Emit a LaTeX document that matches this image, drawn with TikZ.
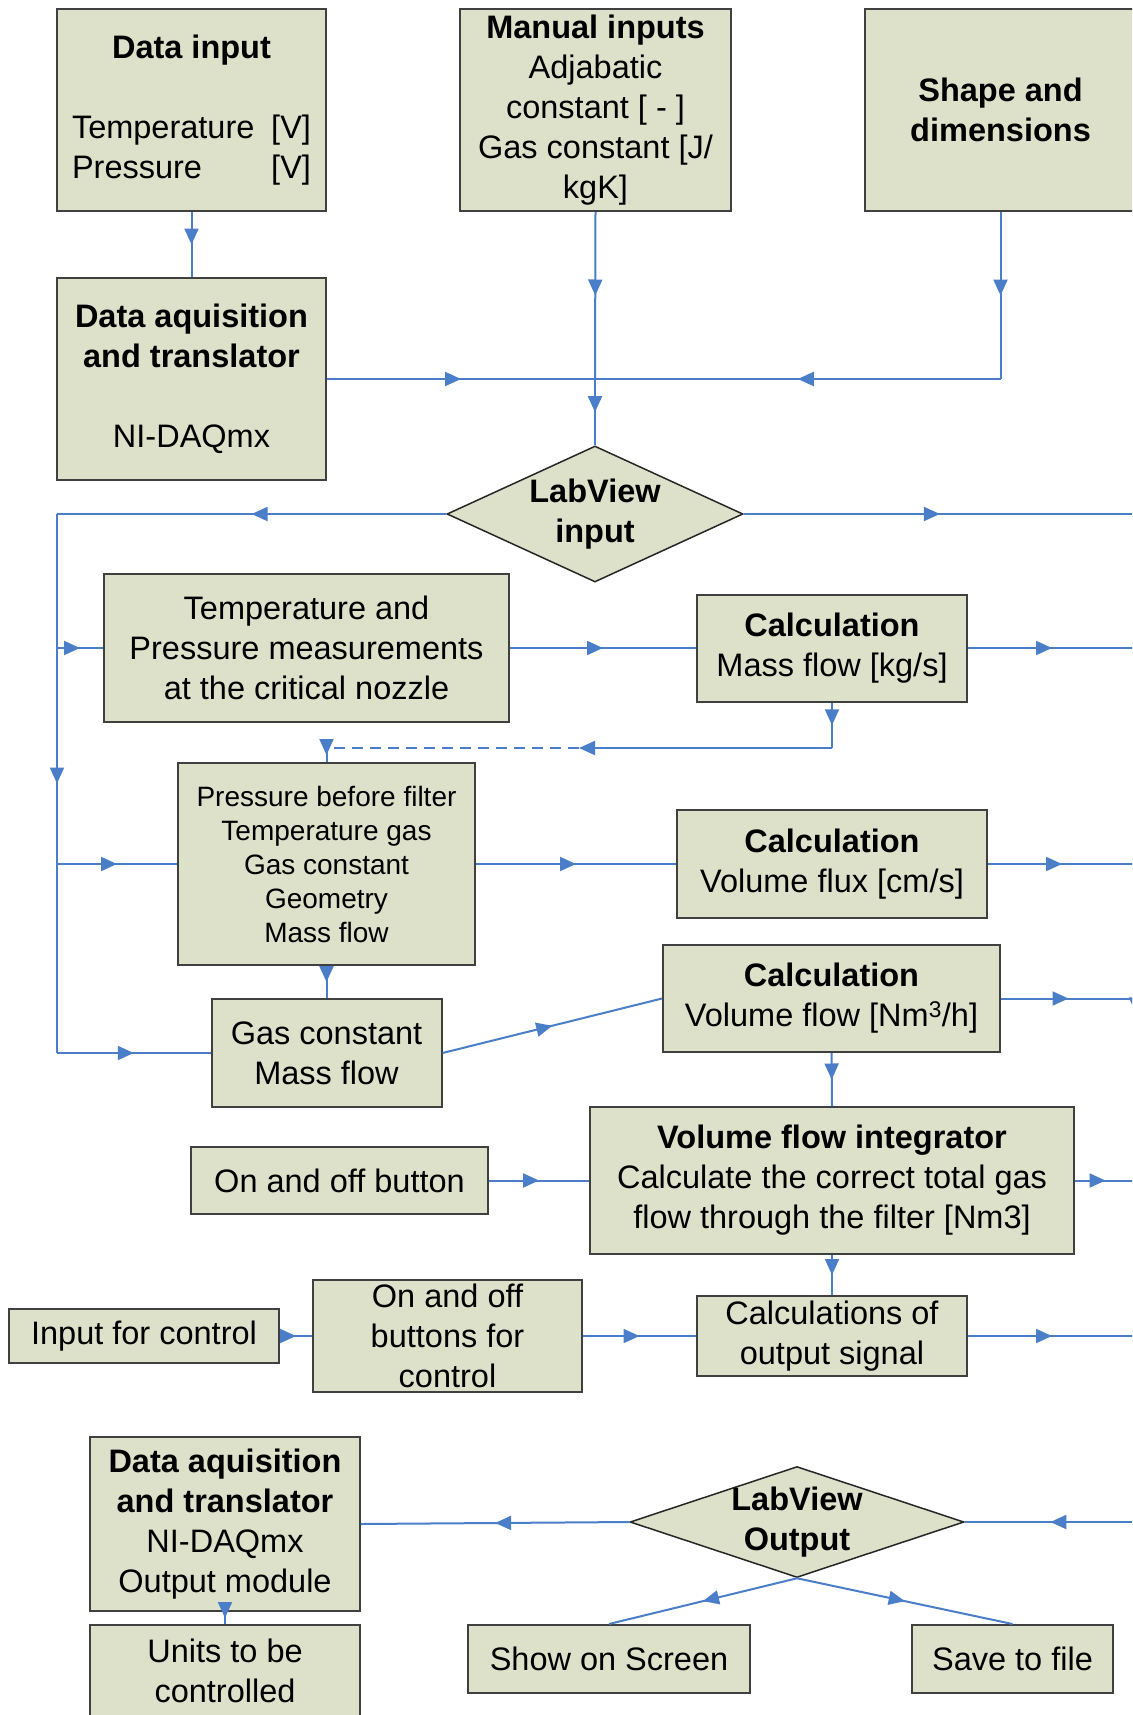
\documentclass[tikz,border=0pt]{standalone}
\usepackage{fontspec}
\setmainfont{Liberation Sans}
\usetikzlibrary{shapes.geometric,arrows.meta,decorations.markings}

\definecolor{boxfill}{RGB}{221,225,202}
\definecolor{flowblue}{RGB}{74,126,201}

\begin{document}
\begin{tikzpicture}[x=1pt,y=-1pt,
    box/.style={draw=black!75,line width=2pt,fill=boxfill,inner sep=0pt,align=center,
      font=\fontsize{32.5}{40}\selectfont},
    small/.style={font=\fontsize{28}{34}\selectfont},
    decision/.style={diamond,draw=black!85,line width=1.5pt,fill=boxfill,inner sep=0pt},
    dtext/.style={align=center,font=\fontsize{32.5}{40}\selectfont\bfseries},
    flow/.style={color=flowblue,line width=2pt},
    tip/.style={-{Triangle[length=16pt,width=14pt]}},
    midarrow/.style={postaction={decorate,decoration={markings,
      mark=at position 0.5 with {\arrow{Triangle[length=16pt,width=14pt]}}}}}]
      \useasboundingbox (0,0) rectangle (1132,1715);
      \fill [white] (0,0) rectangle (1132,1715);
      \clip (0,0) rectangle (1132,1715);

      \node [box,minimum width=269pt,minimum height=202pt] (datain) at (191.5,110)
        {\textbf{Data input}\\[40pt]\makebox[239pt]{Temperature\hfill[V]}\\\makebox[239pt]{Pressure\hfill[V]}};
      \node [box,minimum width=271pt,minimum height=202pt] (manual) at (595.5,110)
        {\textbf{Manual inputs}\\Adjabatic\\constant [ - ]\\Gas constant [J/\\kgK]};
      \node [box,minimum width=271pt,minimum height=202pt] (shape) at (1000.5,110)
        {\textbf{Shape and}\\\textbf{dimensions}};
      \node [box,minimum width=269pt,minimum height=202pt] (daq) at (191.5,379)
        {\textbf{Data aquisition}\\\textbf{and translator}\\[40pt]NI-DAQmx};
      \node [decision,minimum width=296pt,minimum height=136pt,
        label={[dtext]center:LabView\\input}] (lvin) at (595,514) {};

      \node [box,minimum width=405pt,minimum height=148pt] (tp) at (306.5,648)
        {Temperature and\\Pressure measurements\\at the critical nozzle};
      \node [box,minimum width=270pt,minimum height=107pt] (calcmass) at (832,648)
        {\textbf{Calculation}\\Mass flow [kg/s]};
      \node [box,small,minimum width=297pt,minimum height=202pt] (pbf) at (326.5,864)
        {Pressure before filter\\Temperature gas\\Gas constant\\Geometry\\Mass flow};
      \node [box,minimum width=310pt,minimum height=108pt] (calcflux) at (832,864)
        {\textbf{Calculation}\\Volume flux [cm/s]};
      \node [box,minimum width=230pt,minimum height=108pt] (gasmass) at (326.5,1053)
        {Gas constant\\Mass flow};
      \node [box,minimum width=337pt,minimum height=107pt] (calcvol) at (831.5,998.5)
        {\textbf{Calculation}\\Volume flow [Nm\textsuperscript{3}/h]};
      \node [box,minimum width=297pt,minimum height=67pt] (onoff) at (339.5,1180.5)
        {On and off button};
      \node [box,minimum width=484pt,minimum height=147pt] (integ) at (832,1180.5)
        {\textbf{Volume flow integrator}\\Calculate the correct total gas\\flow through the filter [Nm3]};
      \node [box,minimum width=270pt,minimum height=54pt] (inctl) at (144,1336)
        {Input for control};
      \node [box,minimum width=269pt,minimum height=112pt] (onoffctl) at (447.5,1336)
        {On and off\\buttons for\\control};
      \node [box,minimum width=270pt,minimum height=80pt] (calcout) at (832,1336)
        {Calculations of\\output signal};

      \node [decision,minimum width=334pt,minimum height=111pt,
        label={[dtext]center:LabView\\Output}] (lvout) at (797,1522) {};
      \node [box,minimum width=270pt,minimum height=174pt] (daqout) at (225,1524)
        {\textbf{Data aquisition}\\\textbf{and translator}\\NI-DAQmx\\Output module};
      \node [box,minimum width=270pt,minimum height=92pt] (units) at (225,1671)
        {Units to be\\controlled};
      \node [box,minimum width=282pt,minimum height=68pt] (screen) at (609,1659)
        {Show on Screen};
      \node [box,minimum width=201pt,minimum height=68pt] (savefile) at (1012.5,1659)
        {Save to file};

      \coordinate (jin) at (595,379);
      \coordinate (shc) at (1000.5,379);
      \coordinate (lt) at (57,514);
      \coordinate (l1) at (57,648);
      \coordinate (l2) at (57,864);
      \coordinate (lb) at (57,1053);
      \coordinate (mc) at (832,748);
      \coordinate (mm) at (579,748);
      \coordinate (pc) at (326.5,748);
      \coordinate (r1) at (1136,514);
      \coordinate (r2) at (1136,648);
      \coordinate (r3) at (1136,864);
      \coordinate (r4) at (1136,998.5);
      \coordinate (r4d) at (1136,1028);
      \coordinate (r5) at (1136,1180.5);
      \coordinate (r6) at (1136,1336);
      \coordinate (r7) at (1136,1522);

      \draw [flow,midarrow] (datain.south) -- (daq.north);
      \draw [flow,midarrow] (manual.south) -- (jin);
      \draw [flow,midarrow] (jin) -- (lvin.north);
      \draw [flow,midarrow] (daq.east) -- (jin);
      \draw [flow,midarrow] (shape.south) -- (shc);
      \draw [flow,midarrow] (shc) -- (jin);

      \draw [flow,midarrow] (lvin.west) -- (lt);
      \draw [flow,midarrow] (lt) -- (lb);
      \draw [flow,midarrow] (lvin.east) -- (r1);
      \draw [flow,midarrow] (l1) -- (tp.west);
      \draw [flow,midarrow] (tp.east) -- (calcmass.west);
      \draw [flow,midarrow] (calcmass.east) -- (r2);
      \draw [flow,midarrow] (calcmass.south) -- (mc);
      \draw [flow,tip] (mc) -- (mm);
      \draw [flow,dash pattern=on 11pt off 7pt] (mm) -- (pc);
      \draw [flow,midarrow] (pc) -- (pbf.north);
      \draw [flow,midarrow] (l2) -- (pbf.west);
      \draw [flow,midarrow] (pbf.east) -- (calcflux.west);
      \draw [flow,midarrow] (calcflux.east) -- (r3);
      \draw [flow,midarrow] (pbf.south) -- (gasmass.north);
      \draw [flow,midarrow] (lb) -- (gasmass.west);
      \draw [flow,midarrow] (gasmass.east) -- (calcvol.west);
      \draw [flow,midarrow] (calcvol.east) -- (r4);
      \draw [flow,midarrow] (r4) -- (r4d);
      \draw [flow,midarrow] (calcvol.south) -- (integ.north);
      \draw [flow,midarrow] (onoff.east) -- (integ.west);
      \draw [flow,midarrow] (integ.east) -- (r5);
      \draw [flow,midarrow] (integ.south) -- (calcout.north);
      \draw [flow,midarrow] (inctl.east) -- (onoffctl.west);
      \draw [flow,midarrow] (onoffctl.east) -- (calcout.west);
      \draw [flow,midarrow] (calcout.east) -- (r6);

      \draw [flow,midarrow] (r7) -- (lvout.east);
      \draw [flow,midarrow] (lvout.west) -- (daqout.east);
      \draw [flow,midarrow] (daqout.south) -- (units.north);
      \draw [flow,midarrow] (lvout.south) -- (screen.north);
      \draw [flow,midarrow] (lvout.south) -- (savefile.north);
    \end{tikzpicture}
\end{document}
